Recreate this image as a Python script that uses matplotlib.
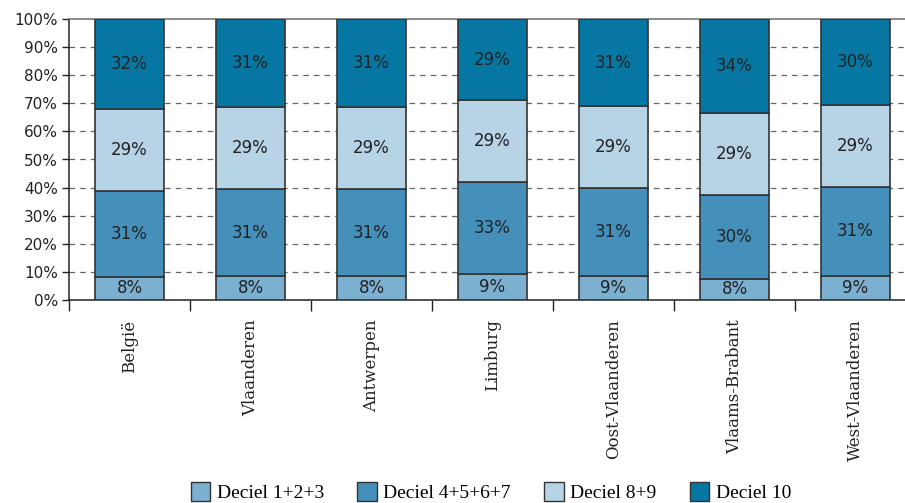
import matplotlib
matplotlib.use("Agg")
import matplotlib.pyplot as plt
from matplotlib.patches import Patch
import numpy as np

categories = ["België", "Vlaanderen", "Antwerpen", "Limburg",
              "Oost-Vlaanderen", "Vlaams-Brabant", "West-Vlaanderen"]
series_names = ["Deciel 1+2+3", "Deciel 4+5+6+7", "Deciel 8+9", "Deciel 10"]
deciel_123 = [8.3, 8.4, 8.4, 9.3, 8.6, 7.6, 8.7]
deciel_4567 = [30.6, 31.1, 31.1, 32.6, 31.1, 29.6, 31.4]
deciel_89 = [29.2, 29.1, 29.1, 29.2, 29.3, 29.2, 29.4]
deciel_10 = [31.9, 31.4, 31.4, 28.9, 31.0, 33.6, 30.4]
y_ticks = [0, 10, 20, 30, 40, 50, 60, 70, 80, 90, 100]

colors = ["#7cb0d1", "#4590bb", "#b7d3e6", "#0677a3"]
edge = "#333333"

fig = plt.figure(figsize=(9.05, 5.03), dpi=100)
ax = fig.add_axes([69 / 905, 203 / 503, 847 / 905, 281 / 503])

x = np.arange(len(categories))
bottom = np.zeros(len(categories))
for vals, col in zip([deciel_123, deciel_4567, deciel_89, deciel_10], colors):
    vals = np.array(vals)
    ax.bar(x, vals, bottom=bottom, width=0.57, color=col, edgecolor=edge,
           linewidth=1.2, zorder=3)
    for xi, b, v in zip(x, bottom, vals):
        ax.text(xi, b + v / 2, f"{round(v)}%", ha="center", va="center",
                fontsize=12, color="#222222", family="DejaVu Sans", zorder=4)
    bottom += vals

ax.set_xlim(-0.5, len(categories) - 0.5)
ax.set_ylim(0, 100)

# y axis
ax.set_yticks(y_ticks)
ax.set_yticklabels([f"{t}%" for t in y_ticks], family="DejaVu Sans",
                   fontsize=11, color="#222222")
ax.tick_params(axis="y", length=5, width=1, color="#222222", pad=3)
for t in y_ticks[1:-1]:
    ax.axhline(t, color="#666666", linewidth=0.9, dashes=(4.5, 4), zorder=1)

# x axis: boundary ticks, centred category labels
ax.set_xticks(np.arange(-0.5, len(categories), 1.0))
ax.set_xticklabels([])
ax.tick_params(axis="x", which="major", length=8, width=1, color="#222222")
ax.set_xticks(x, minor=True)
ax.set_xticklabels(categories, minor=True, rotation=90, family="DejaVu Serif",
                   fontsize=12, color="#222222")
ax.tick_params(axis="x", which="minor", length=0, pad=14)

for s in ["left", "bottom"]:
    ax.spines[s].set_color("#222222")
    ax.spines[s].set_linewidth(1.1)
ax.spines["top"].set_color("#777777")
ax.spines["top"].set_linewidth(1.2)
ax.spines["right"].set_visible(False)

handles = [Patch(facecolor=c, edgecolor=edge, linewidth=1.0) for c in colors]
fig.legend(handles, series_names, loc="center", bbox_to_anchor=(491 / 905, 11 / 503),
           ncol=4, frameon=False, prop={"family": "Liberation Serif", "size": 14},
           handlelength=1.0, handleheight=1.1, handletextpad=0.35,
           columnspacing=1.7)

fig.savefig("out.png", dpi=100)
